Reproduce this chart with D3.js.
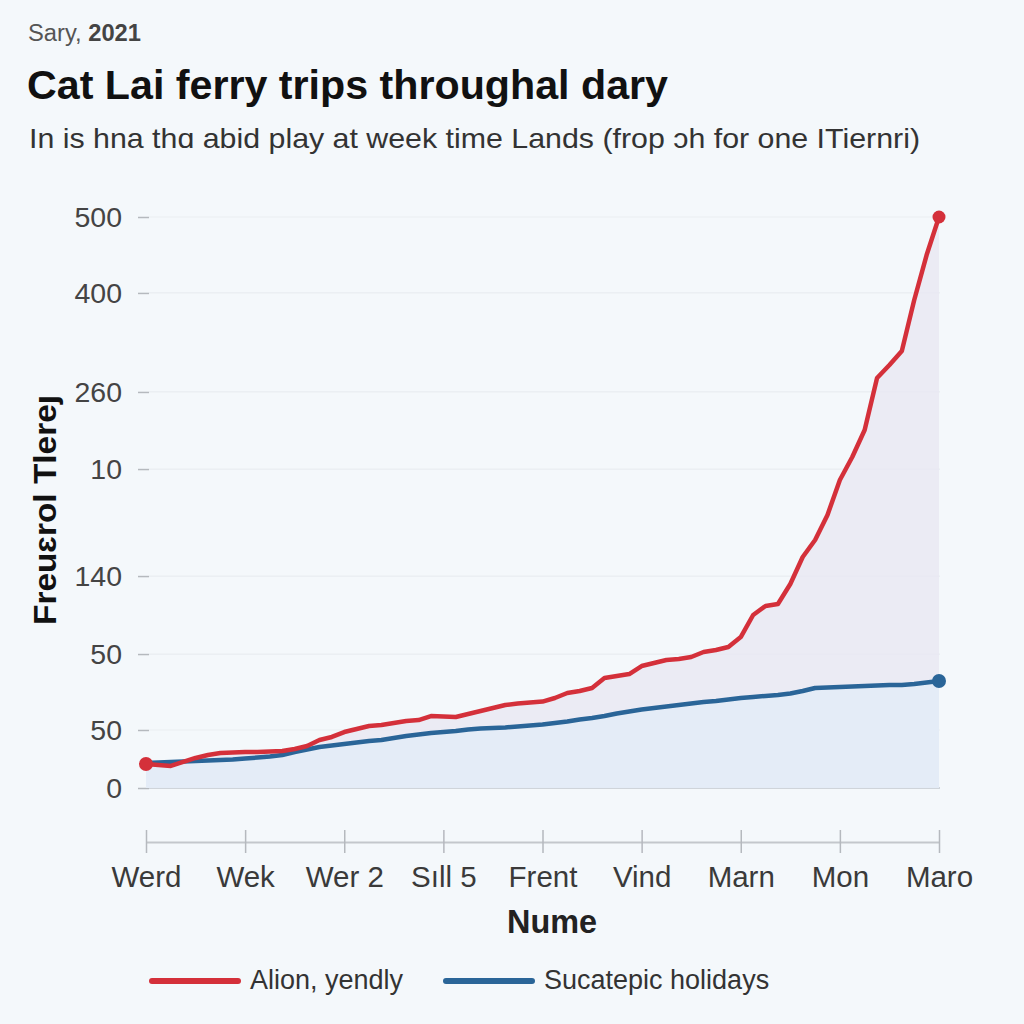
<!DOCTYPE html>
<html>
<head>
<meta charset="utf-8">
<script src="https://cdn.jsdelivr.net/npm/d3@7"></script>
<style>
  html, body { margin: 0; padding: 0; background: #f4f8fb; }
  svg { display: block; }
  text { font-family: "Liberation Sans", Arial, sans-serif; }
</style>
</head>
<body>
<svg id="chart" width="1024" height="1024"></svg>
<script>
// ---- data ----
const xTickDays = [0, 8, 16, 24, 32, 40, 48, 56, 64];
const xTickLabels = ["Werd", "Wek", "Wer 2", "S\u0131ll 5", "Frent", "Vind", "Marn", "Mon", "Maro"];
const yTickValues = [0, 50.8, 117.3, 185.6, 279.3, 346.8, 433.5, 500];
const yTickLabels = ["0", "50", "50", "140", "10", "260", "400", "500"];
const seriesNames = ["Alion, yendly", "Sucatepic holidays"];
const seriesColors = ["#d4303a", "#2a6598"];
const redValues = [21.0, 20.1, 19.3, 22.8, 26.3, 28.9, 30.6, 31.1, 31.5, 31.5, 32.0, 32.4, 34.2, 36.8, 42.0, 44.7,
  49.0, 51.7, 54.3, 55.2, 56.9, 58.7, 59.5, 63.0, 62.6, 62.2, 64.8, 67.4, 70.1, 72.7, 74.0, 74.9,
  75.7, 78.8, 83.2, 84.9, 87.6, 96.3, 98.1, 99.8, 106.8, 109.5, 112.1, 113.0, 114.7, 119.1, 120.8, 123.5,
  132.2, 151.5, 159.4, 161.1, 178.6, 202.3, 217.2, 239.1, 269.7, 289.8, 313.5, 359.0, 370.4, 382.7, 427.3, 466.7, 500];
const blueValues = [21.9, 22.3, 22.8, 23.2, 23.6, 24.1, 24.5, 25.0, 25.8, 26.7, 27.6, 28.9, 31.5, 33.7, 35.9, 37.2,
  38.5, 39.8, 41.2, 42.0, 43.8, 45.5, 46.8, 48.2, 49.0, 49.9, 51.2, 52.1, 52.5, 53.0, 53.9, 54.7,
  55.6, 56.9, 58.2, 60.0, 61.3, 63.0, 65.2, 67.0, 68.7, 70.1, 71.4, 72.7, 74.0, 75.3, 76.2, 77.5,
  78.8, 79.7, 80.6, 81.4, 82.7, 84.9, 87.6, 88.0, 88.4, 88.8, 89.3, 89.7, 90.2, 90.2, 91.1, 92.4, 93.7];

// ---- layout ----
const svg = d3.select("#chart");
const x = d3.scaleLinear().domain([0, 64]).range([146, 939]);
const y = d3.scaleLinear().domain([0, 500]).range([788, 217]);

svg.append("rect").attr("width", 1024).attr("height", 1024).attr("fill", "#f4f8fb");

// header texts
const hdr = svg.append("text").attr("x", 28).attr("y", 41).attr("font-size", 23).attr("fill", "#555")
  .attr("textLength", 113).attr("lengthAdjust", "spacingAndGlyphs");
hdr.append("tspan").text("Sary, ");
hdr.append("tspan").attr("font-weight", "bold").attr("fill", "#444").text("2021");

svg.append("text").attr("x", 27).attr("y", 99).attr("font-size", 40).attr("font-weight", "bold")
  .attr("fill", "#111").attr("textLength", 641).attr("lengthAdjust", "spacingAndGlyphs")
  .text("Cat Lai ferry trips throughal dary");

svg.append("text").attr("x", 29).attr("y", 148).attr("font-size", 28).attr("fill", "#333")
  .attr("textLength", 891).attr("lengthAdjust", "spacingAndGlyphs")
  .text("In is hna th\u0251 abid play at week time Lands (frop \u0254h for one ITiernri)");

// grid lines + y axis
const yAxis = d3.axisLeft(y).tickValues(yTickValues)
  .tickFormat((d, i) => yTickLabels[i]).tickSize(11).tickPadding(16);
const gy = svg.append("g").attr("transform", "translate(149,0)").call(yAxis);
gy.select(".domain").remove();
gy.selectAll(".tick line").attr("stroke", "#b5b9be").attr("stroke-width", 1.5);
gy.selectAll(".tick text").attr("font-size", 28.5).attr("fill", "#444")
  .attr("font-family", "Liberation Sans, Arial, sans-serif");

svg.append("g").selectAll("line").data(yTickValues).join("line")
  .attr("x1", 149).attr("x2", 940)
  .attr("y1", d => y(d)).attr("y2", d => y(d))
  .attr("stroke", d => d === 0 ? "#cfd4da" : "#e9edf1")
  .attr("stroke-width", d => d === 0 ? 2 : 1.2);

// areas
const area = d3.area().x((d, i) => x(i)).y0(y(0)).y1(d => y(d));
svg.append("path").datum(redValues).attr("d", area).attr("fill", "#e8e7f2").attr("opacity", 0.8);
svg.append("path").datum(blueValues).attr("d", area).attr("fill", "#e3ecf7").attr("opacity", 0.85);

// lines
const line = d3.line().x((d, i) => x(i)).y(d => y(d));
[[blueValues, seriesColors[1]], [redValues, seriesColors[0]]].forEach(([vals, col]) => {
  svg.append("path").datum(vals).attr("d", line).attr("fill", "none")
    .attr("stroke", col).attr("stroke-width", 4.5)
    .attr("stroke-linejoin", "round").attr("stroke-linecap", "round");
});

// end dots
svg.append("circle").attr("cx", x(0)).attr("cy", y(redValues[0])).attr("r", 7).attr("fill", seriesColors[0]);
svg.append("circle").attr("cx", x(64)).attr("cy", y(redValues[64])).attr("r", 6.5).attr("fill", seriesColors[0]);
svg.append("circle").attr("cx", x(64)).attr("cy", y(blueValues[64])).attr("r", 7).attr("fill", seriesColors[1]);

// x axis (offset below plot)
const xAxis = d3.axisBottom(x).tickValues(xTickDays)
  .tickFormat((d, i) => xTickLabels[i]).tickSizeInner(11).tickSizeOuter(0).tickPadding(13);
const gx = svg.append("g").attr("transform", "translate(0,842)").call(xAxis);
gx.select(".domain").attr("stroke", "#c3c7cc").attr("stroke-width", 2);
gx.selectAll(".tick line").attr("stroke", "#b5b9be").attr("stroke-width", 1.5).attr("y1", -12);
gx.selectAll(".tick text").attr("font-size", 29.5).attr("fill", "#3a3a3a")
  .attr("font-family", "Liberation Sans, Arial, sans-serif");

// axis titles
svg.append("text").attr("x", 552).attr("y", 933).attr("text-anchor", "middle")
  .attr("font-size", 34).attr("font-weight", "bold").attr("fill", "#222")
  .attr("textLength", 90).attr("lengthAdjust", "spacingAndGlyphs").text("Nume");
svg.append("text").attr("transform", "translate(56,510) rotate(-90)").attr("text-anchor", "middle")
  .attr("font-size", 32).attr("font-weight", "bold").attr("fill", "#111")
  .attr("textLength", 230).attr("lengthAdjust", "spacingAndGlyphs").text("Freu\u025brol Tlere\u0237");

// legend
const legX = [152, 446];
seriesNames.forEach((name, i) => {
  svg.append("line").attr("x1", legX[i]).attr("x2", legX[i] + 86).attr("y1", 981).attr("y2", 981)
    .attr("stroke", seriesColors[i]).attr("stroke-width", 6).attr("stroke-linecap", "round");
  svg.append("text").attr("x", legX[i] + 98).attr("y", 989).attr("font-size", 27).attr("fill", "#333").text(name);
});
</script>
</body>
</html>
